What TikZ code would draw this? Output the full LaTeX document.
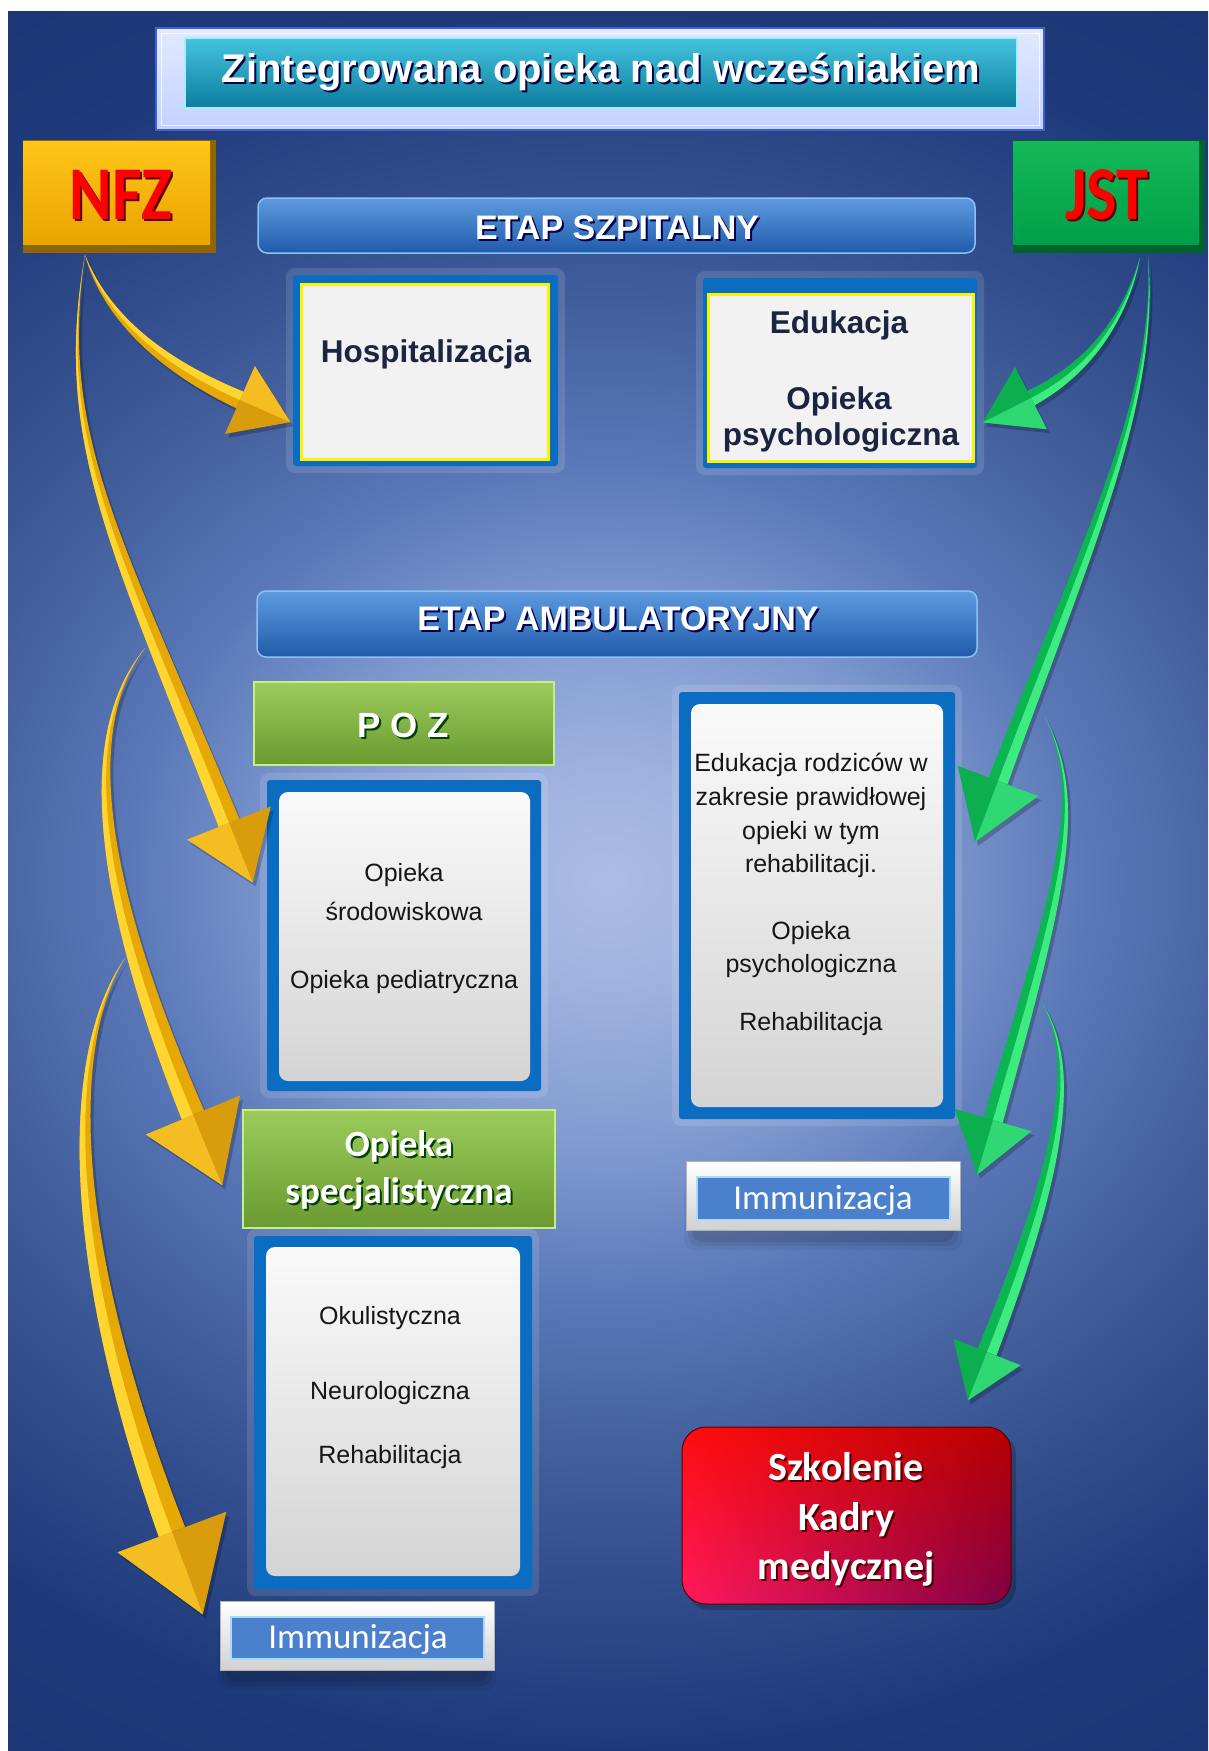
\documentclass[tikz,border=0pt]{standalone}
\usepackage{fontspec}
\setmainfont{Liberation Sans}
\newfontfamily\cali{Carlito}
\usepackage{graphicx}
\usetikzlibrary{calc,shadings}

\definecolor{bgA}{HTML}{AABCE5}
\definecolor{bgB}{HTML}{A0B3E0}
\definecolor{bgC}{HTML}{7E98CF}
\definecolor{bgD}{HTML}{5A78B8}
\definecolor{bgE}{HTML}{45629F}
\definecolor{bgF}{HTML}{34508F}
\definecolor{bgG}{HTML}{1E3A7A}
\definecolor{bgH}{HTML}{162F6C}
\pgfdeclareradialshading{bgshade}{\pgfpoint{0bp}{0bp}}{%
 color(0bp)=(bgA); color(3bp)=(bgB); color(8bp)=(bgC); color(12bp)=(bgD);
 color(16bp)=(bgE); color(19.5bp)=(bgF); color(25bp)=(bgG); color(40bp)=(bgH)}

\definecolor{golddark}{HTML}{E6A805}
\definecolor{goldlight}{HTML}{FFD532}
\definecolor{goldhead}{HTML}{D99C0C}
\definecolor{goldheadlt}{HTML}{F4BE22}
\definecolor{greendark}{HTML}{0AB552}
\definecolor{greenlight}{HTML}{3DEB80}
\definecolor{greenhead}{HTML}{0CAE50}
\definecolor{greenheadlt}{HTML}{2FD872}
\definecolor{boxblue}{HTML}{0A6DC2}
\definecolor{navytxt}{HTML}{1B2440}
\definecolor{dtxt}{HTML}{161616}
\definecolor{frTop}{HTML}{E2EAFF}
\definecolor{frMid}{HTML}{7B96EC}
\definecolor{frBot}{HTML}{C2D2FF}
\definecolor{frEdge}{HTML}{4360D0}
\definecolor{tlTop}{HTML}{43C4DF}
\definecolor{tlMid}{HTML}{1798B9}
\definecolor{tlBot}{HTML}{0E7C9C}
\definecolor{tlEdge}{HTML}{A4EEFF}
\definecolor{nfzTop}{HTML}{FFC61A}
\definecolor{nfzBot}{HTML}{EAA400}
\definecolor{nfzDark}{HTML}{8F6606}
\definecolor{jstTop}{HTML}{14B858}
\definecolor{jstBot}{HTML}{00A049}
\definecolor{jstDark}{HTML}{00632F}
\definecolor{barTop}{HTML}{5E9BE0}
\definecolor{barBot}{HTML}{1F5BAA}
\definecolor{barEdge}{HTML}{8CC0F5}
\definecolor{grTop}{HTML}{9CCB5C}
\definecolor{grBot}{HTML}{6A9A30}
\definecolor{grEdge}{HTML}{C6EE86}
\definecolor{imBlue}{HTML}{4A80CC}
\definecolor{imEdge}{HTML}{A8DCFF}

% #1 prefix, #2 half width, #3 head length, #4 head half width, #5 colour set, #6 light side (L/R)
\newcommand{\ribbon}[6]{%
 \coordinate (#1EL) at ($(#1E)!#2!90:(#1C2)$);
 \coordinate (#1ER) at ($(#1E)!#2!-90:(#1C2)$);
 \coordinate (#1BL) at ($(#1E)!#4!90:(#1C2)$);
 \coordinate (#1BR) at ($(#1E)!#4!-90:(#1C2)$);
 \coordinate (#1T) at ($(#1E)!-#3!(#1C2)$);
 \coordinate (#1AL) at ($(#1C2)!0.65*#2!-90:(#1E)$);
 \coordinate (#1AR) at ($(#1C2)!0.65*#2!90:(#1E)$);
 \coordinate (#1QL) at ($(#1C1)!0.3*#2!-90:(#1C2)$);
 \coordinate (#1QR) at ($(#1C1)!0.3*#2!90:(#1C2)$);
 \begin{scope}[transform canvas={shift={(3,4)}}]
  \fill[black,opacity=0.22] (#1S) .. controls (#1QL) and (#1AL) .. (#1EL) -- (#1BL) -- (#1T) -- (#1BR) -- (#1ER) .. controls (#1AR) and (#1QR) .. (#1S) -- cycle;
 \end{scope}
 \fill[#5dark] (#1S) .. controls (#1QL) and (#1AL) .. (#1EL) -- (#1ER) .. controls (#1AR) and (#1QR) .. (#1S) -- cycle;
 \fill[#5light] (#1S) .. controls (#1Q#6) and (#1A#6) .. (#1E#6) -- (#1E) .. controls (#1C2) and (#1C1) .. (#1S) -- cycle;
 \fill[#5head] (#1BL) -- (#1T) -- (#1BR) -- cycle;
 \fill[#5headlt] (#1B#6) -- (#1T) -- (#1E) -- cycle;
}

\newcommand{\shadowtext}[5]{%
 \node[txt,#3,text=#4] (#1s) at ($(#2)+(2,2.5)$) {#5};
 \node[txt,#3] (#1) at (#2) {#5};
}

\begin{document}
\begin{tikzpicture}[x=1pt,y=-1pt,
  txt/.style={inner sep=0pt,anchor=base,align=center},
  ttl/.style={font=\fontsize{40}{46}\selectfont\bfseries,text=white},
  etap/.style={font=\fontsize{34}{40}\selectfont\bfseries,text=white},
  hosp/.style={font=\fontsize{31.5}{38}\selectfont\bfseries,text=navytxt},
  body/.style={font=\fontsize{25}{30}\selectfont,text=dtxt},
  gtitle/.style={font=\cali\fontsize{37}{44}\selectfont\bfseries,text=white},
  immu/.style={font=\cali\fontsize{35}{40}\selectfont,text=white},
  szk/.style={font=\cali\fontsize{40}{46}\selectfont\bfseries,text=white},
  big/.style={font=\cali\fontsize{76}{80}\selectfont\bfseries,text=red},
  glow/.style={fill=white,opacity=0.12,rounded corners=9pt},
  gbox/.style={top color=grTop,bottom color=grBot},
  bar/.style={rounded corners=9pt,top color=barTop,bottom color=barBot}
]
\useasboundingbox (0,0) rectangle (1208,1751);
\fill[white] (0,0) rectangle (1208,1751);
\begin{scope}
 \clip (8,11) rectangle (1208,1751);
 \shade[shading=bgshade] (-392,11) rectangle (1608,1751);
\end{scope}

% ---------- title ----------
\shade[top color=frTop, middle color=frMid, bottom color=frBot] (156,28) rectangle (1044,130);
\draw[frEdge,line width=1.5pt] (156,28) rectangle (1044,130);
\draw[white,opacity=0.7,line width=1pt] (161,33) rectangle (1039,125);
\shade[top color=tlTop, middle color=tlMid, bottom color=tlBot] (185,38) rectangle (1017,108);
\draw[tlEdge,line width=1.5pt] (185,38) rectangle (1017,108);
\shadowtext{title}{601,82}{ttl}{black!75!blue}{Zintegrowana opieka nad wcześniakiem}

% ---------- NFZ / JST ----------
\fill[nfzDark] (23,140) rectangle (216,253);
\shade[top color=nfzTop, bottom color=nfzBot] (23,141) rectangle (210,244);
\shadowtext{nfz}{121,219}{big}{red!35!black}{\scalebox{0.85}[1]{NFZ}}
\fill[jstDark] (1013,140) rectangle (1205,253);
\shade[top color=jstTop, bottom color=jstBot] (1013,141) rectangle (1199,244);
\shadowtext{jst}{1107,219}{big}{red!35!black}{\scalebox{0.85}[1]{JST}}

% ---------- ETAP SZPITALNY ----------
\shade[bar] (258,198) rectangle (975,253);
\draw[rounded corners=9pt,barEdge,line width=1.5pt] (258,198) rectangle (975,253);
\shadowtext{etap1}{617,239}{etap}{blue!30!black}{ETAP SZPITALNY}

% Hospitalizacja
\fill[glow] (286,268) rectangle (565,473);
\fill[boxblue,rounded corners=3pt] (293,275) rectangle (558,466);
\fill[yellow] (300,283) rectangle (550,461);
\fill[black!5] (303,286) rectangle (547,458);
\node[txt,hosp] (hosp) at (426,362) {Hospitalizacja};

% Edukacja
\fill[glow] (696,271) rectangle (984,475);
\fill[boxblue,rounded corners=3pt] (703,278) rectangle (977,468);
\fill[yellow] (707,293) rectangle (975,463);
\fill[black!5] (710,296) rectangle (972,460);
\node[txt,hosp] (eduk) at (839,333) {Edukacja};
\node[txt,hosp] (opsy1) at (839,409) {Opieka};
\node[txt,hosp] (opsy2) at (841,445) {psychologiczna};

% ---------- ETAP AMBULATORYJNY ----------
\shade[bar] (257,591) rectangle (977,657);
\draw[rounded corners=9pt,barEdge,line width=1.5pt] (257,591) rectangle (977,657);
\shadowtext{etap2}{618,630}{etap}{blue!30!black}{ETAP AMBULATORYJNY}

% POZ
\shade[gbox] (254,682) rectangle (554,765);
\draw[grEdge,line width=1.5pt] (254,682) rectangle (554,765);
\shadowtext{poz}{403,737}{font=\fontsize{35}{40}\selectfont\bfseries,text=white}{green!25!black}{P O Z}

% POZ content
\fill[glow] (260,773) rectangle (548,1098);
\fill[boxblue,rounded corners=3pt] (267,780) rectangle (541,1091);
\shade[rounded corners=9pt,top color=black!2, bottom color=black!17] (279,792) rectangle (530,1081);
\node[txt,body] (poz1) at (404,881) {Opieka};
\node[txt,body] (poz2) at (404,920) {środowiskowa};
\node[txt,body] (poz3) at (404,988) {Opieka pediatryczna};

% right ambulatory content
\fill[glow] (672,685) rectangle (962,1126);
\fill[boxblue,rounded corners=3pt] (679,692) rectangle (955,1119);
\shade[rounded corners=9pt,top color=black!2, bottom color=black!17] (691,704) rectangle (943,1107);
\node[txt,body] (r1) at (811,771) {Edukacja rodziców w};
\node[txt,body] (r2) at (811,805) {zakresie prawidłowej};
\node[txt,body] (r3) at (811,839) {opieki w tym};
\node[txt,body] (r4) at (811,872) {rehabilitacji.};
\node[txt,body] (r5) at (811,939) {Opieka};
\node[txt,body] (r6) at (811,972) {psychologiczna};
\node[txt,body] (r7) at (811,1030) {Rehabilitacja};

% Immunizacja right
\foreach \k/\o in {12/0.05,8/0.07,4/0.09}
  \fill[black,opacity=\o,rounded corners=10pt] (696-\k,1190-\k) rectangle (950+\k,1238+\k);
\shade[top color=white, bottom color=black!18] (686,1161) rectangle (960,1230);
\draw[black!30,line width=0.8pt] (686,1161) rectangle (960,1230);
\fill[imBlue] (697,1177) rectangle (950,1220);
\draw[imEdge,line width=2.5pt] (697,1177) rectangle (950,1220);
\node[txt,immu] (immR) at (823,1209) {Immunizacja};

% Opieka specjalistyczna
\shade[gbox] (243,1110) rectangle (555,1228);
\draw[grEdge,line width=1.5pt] (243,1110) rectangle (555,1228);
\shadowtext{spec1}{399,1156}{gtitle}{green!25!black}{Opieka}
\shadowtext{spec2}{399,1203}{gtitle}{green!25!black}{specjalistyczna}

% Okulistyczna box
\fill[glow] (247,1229) rectangle (539,1596);
\fill[boxblue,rounded corners=3pt] (254,1236) rectangle (532,1589);
\shade[rounded corners=9pt,top color=black!2, bottom color=black!17] (266,1247) rectangle (520,1576);
\node[txt,body] (ok1) at (390,1324) {Okulistyczna};
\node[txt,body] (ok2) at (390,1399) {Neurologiczna};
\node[txt,body] (ok3) at (390,1463) {Rehabilitacja};

% Immunizacja left
\foreach \k/\o in {12/0.05,8/0.07,4/0.09}
  \fill[black,opacity=\o,rounded corners=10pt] (230-\k,1630-\k) rectangle (484+\k,1678+\k);
\shade[top color=white, bottom color=black!18] (220,1601) rectangle (494,1670);
\draw[black!30,line width=0.8pt] (220,1601) rectangle (494,1670);
\fill[imBlue] (231,1617) rectangle (484,1659);
\draw[imEdge,line width=2.5pt] (231,1617) rectangle (484,1659);
\node[txt,immu] (immL) at (358,1648) {Immunizacja};

% Szkolenie
\fill[black,opacity=0.2,rounded corners=24pt] (686,1432) rectangle (1016,1610);
\shade[rounded corners=24pt,upper left=red!95!white, upper right=red!72!black, lower left=red!70!magenta!90!white, lower right=red!45!magenta!50!black] (682,1427) rectangle (1011,1604);
\draw[rounded corners=24pt,red!35!black,line width=1pt] (682,1427) rectangle (1011,1604);
\shadowtext{sz1}{846,1480}{szk}{red!30!black}{Szkolenie}
\shadowtext{sz2}{846,1530}{szk}{red!30!black}{Kadry}
\shadowtext{sz3}{846,1579}{szk}{red!30!black}{medycznej}

% ---------- gold arrows (NFZ) ----------
\coordinate (gdS) at (125,958);  \coordinate (gdC1) at (65,1050); \coordinate (gdC2) at (67,1251); \coordinate (gdE) at (172,1532);
\ribbon{gd}{14pt}{88pt}{58pt}{gold}{L}
\coordinate (gcS) at (145,648);  \coordinate (gcC1) at (80,730);  \coordinate (gcC2) at (97,884);  \coordinate (gcE) at (193,1115);
\ribbon{gc}{12pt}{76pt}{51pt}{gold}{L}
\coordinate (gbS) at (85,255);   \coordinate (gbC1) at (55,440);  \coordinate (gbC2) at (118,544); \coordinate (gbE) at (229,823);
\ribbon{gb}{11pt}{64pt}{45pt}{gold}{L}
\coordinate (gaS) at (85,255);   \coordinate (gaC1) at (100,300); \coordinate (gaC2) at (140,356); \coordinate (gaE) at (240,400);
\ribbon{ga}{9pt}{55pt}{37pt}{gold}{R}

% ---------- green arrows (JST) ----------
\coordinate (jdS) at (1042,1003); \coordinate (jdC1) at (1075,1060); \coordinate (jdC2) at (1068,1147); \coordinate (jdE) at (987,1352);
\ribbon{jd}{10pt}{52pt}{36pt}{green}{R}
\coordinate (jcS) at (1045,717);  \coordinate (jcC1) at (1085,800);  \coordinate (jcC2) at (1063,880);  \coordinate (jcE) at (993,1120);
\ribbon{jc}{10pt}{57pt}{40pt}{green}{R}
\coordinate (jbS) at (1148,257);  \coordinate (jbC1) at (1158,400);  \coordinate (jbC2) at (1086,547);  \coordinate (jbE) at (998,781);
\ribbon{jb}{10pt}{65pt}{43pt}{green}{R}
\coordinate (jaS) at (1140,257);  \coordinate (jaC1) at (1130,300);  \coordinate (jaC2) at (1102,362);  \coordinate (jaE) at (1031,398);
\ribbon{ja}{8pt}{54pt}{35pt}{green}{R}
\end{tikzpicture}
\end{document}
